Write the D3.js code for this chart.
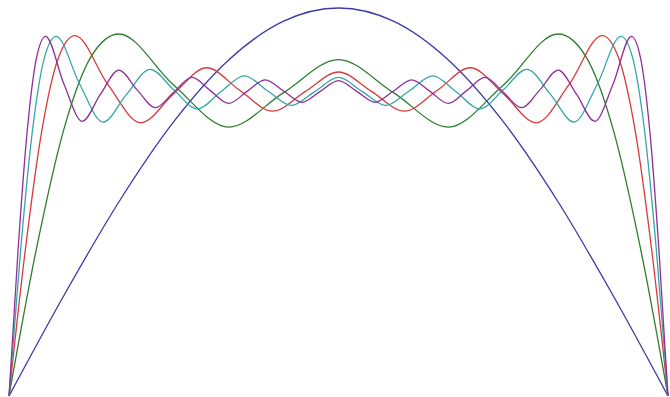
<!DOCTYPE html>
<html>
<head>
<meta charset="utf-8">
<script src="https://cdn.jsdelivr.net/npm/d3@7"></script>
<style>
    html, body { margin: 0; padding: 0; background: #fff; }
    svg { display: block; }
</style>
</head>
<body>
<svg class="chart"></svg>
<script>
(function() {
    'use strict';

    // angle (degrees) and height of each curve
    var blueX = [0, 15, 30, 45, 60, 75, 90, 105, 120, 135, 150, 165, 180];
    var blueY = [0, 0.259, 0.5, 0.707, 0.866, 0.966, 1, 0.966, 0.866, 0.707, 0.5, 0.259, 0];

    var greenX = [0, 7.5, 15, 22.5, 30, 45, 60, 75, 90, 105, 120, 135, 150, 157.5, 165, 172.5, 180];
    var greenY = [0, 0.380, 0.688, 0.876, 0.933, 0.801, 0.693, 0.782, 0.867, 0.782, 0.693, 0.801, 0.933, 0.876, 0.688, 0.380, 0];

    var redX = [0, 4.5, 9, 13.5, 18, 27, 36, 45, 54, 63, 72, 81, 90,
        99, 108, 117, 126, 135, 144, 153, 162, 166.5, 171, 175.5, 180];
    var redY = [0, 0.380, 0.686, 0.872, 0.929, 0.803, 0.704, 0.779, 0.846, 0.788, 0.734, 0.785, 0.835,
        0.785, 0.734, 0.788, 0.846, 0.779, 0.704, 0.803, 0.929, 0.872, 0.686, 0.380, 0];

    var cyanX = [0, 3.21, 6.43, 9.64, 12.86, 19.29, 25.71, 32.14, 38.57, 45, 51.43, 57.86, 64.29, 70.71, 77.14, 83.57, 90,
        96.43, 102.86, 109.29, 115.71, 122.14, 128.57, 135, 141.43, 147.86, 154.29, 160.71, 167.14, 170.36, 173.57, 176.79, 180];
    var cyanY = [0, 0.380, 0.686, 0.871, 0.927, 0.804, 0.706, 0.778, 0.842, 0.789, 0.740, 0.784, 0.825, 0.786, 0.749, 0.785, 0.821,
        0.785, 0.749, 0.786, 0.825, 0.784, 0.740, 0.789, 0.842, 0.778, 0.706, 0.804, 0.927, 0.871, 0.686, 0.380, 0];

    var purpleX = [0, 2.5, 5, 7.5, 10, 15, 20, 25, 30, 35, 40, 45, 50, 55, 60, 65, 70, 75, 80, 85, 90,
        95, 100, 105, 110, 115, 120, 125, 130, 135, 140, 145, 150, 155, 160, 165, 170, 172.5, 175, 177.5, 180];
    var purpleY = [0, 0.380, 0.686, 0.871, 0.927, 0.804, 0.708, 0.778, 0.840, 0.789, 0.743, 0.783, 0.821, 0.787, 0.754, 0.785, 0.815, 0.786, 0.757, 0.785, 0.813,
        0.785, 0.757, 0.786, 0.815, 0.785, 0.754, 0.787, 0.821, 0.783, 0.743, 0.789, 0.840, 0.778, 0.708, 0.804, 0.927, 0.871, 0.686, 0.380, 0];

    var series = [
        { xs: blueX, ys: blueY, color: "#3b3ba6" },
        { xs: greenX, ys: greenY, color: "#2f7d2f" },
        { xs: redX, ys: redY, color: "#d83a3a" },
        { xs: cyanX, ys: cyanY, color: "#36a6a6" },
        { xs: purpleX, ys: purpleY, color: "#8f2f9a" }
    ];

    var width = 670,
        height = 397;

    var x = d3.scaleLinear()
        .domain([0, 180])
        .range([9, 668]);

    var y = d3.scaleLinear()
        .domain([0, 1])
        .range([396, 8]);

    var chart = d3.select(".chart")
        .attr("width", width)
        .attr("height", height);

    var line = d3.line()
        .x(function(d) { return x(d[0]); })
        .y(function(d) { return y(d[1]); })
        .curve(d3.curveMonotoneX);

    chart.selectAll("path.curve")
        .data(series)
        .enter().append("path")
        .attr("class", "curve")
        .attr("fill", "none")
        .attr("stroke", function(d) { return d.color; })
        .attr("stroke-width", 1.3)
        .attr("d", function(d) {
            return line(d.xs.map(function(v, i) { return [v, d.ys[i]]; }));
        });
})();
</script>
</body>
</html>
